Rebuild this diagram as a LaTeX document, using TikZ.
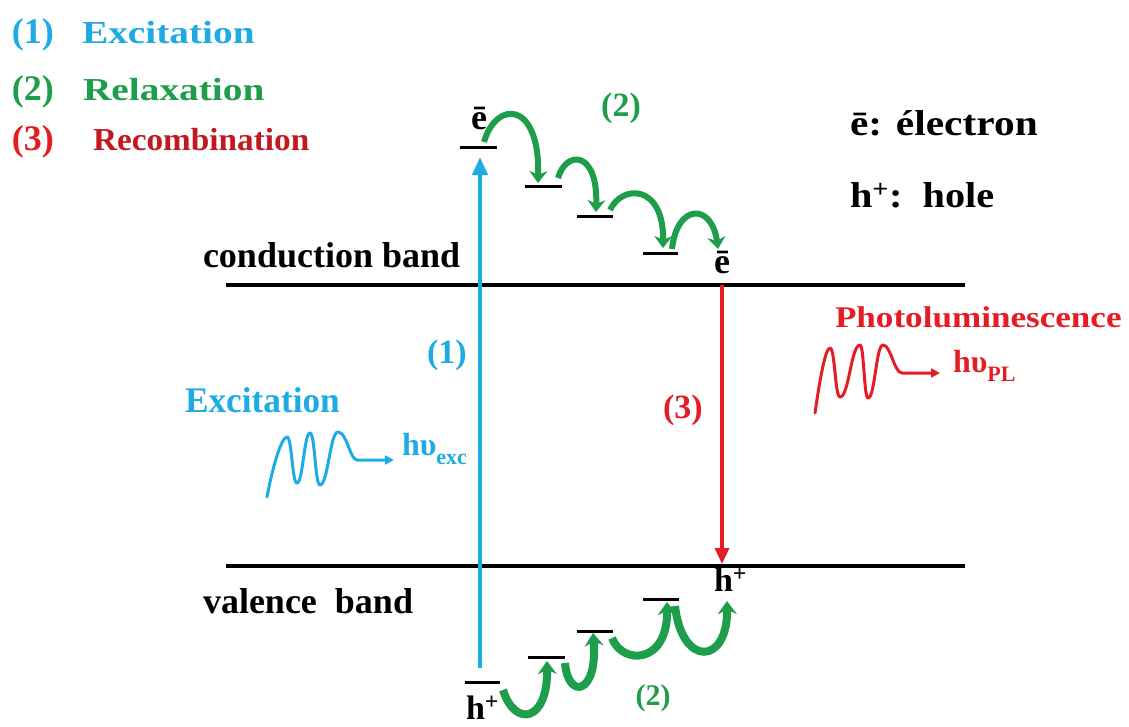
\documentclass[tikz,border=0pt]{standalone}
\usepackage{fontspec}
\usepackage{graphicx}
\setmainfont{Liberation Serif}
\usetikzlibrary{arrows.meta}
\definecolor{blu}{RGB}{30,170,226}
\definecolor{grn}{RGB}{30,158,74}
\definecolor{rd}{RGB}{228,28,36}
\newcommand\txt[3]{\scalebox{#1}[1]{\fontsize{#2}{#2}\selectfont\bfseries #3}}
\tikzset{
  lbl/.style={inner sep=0pt, outer sep=0pt, anchor=base west},
  clbl/.style={inner sep=0pt, outer sep=0pt, anchor=base},
  band/.style={line width=4pt, black},
  level/.style={line width=3pt, black},
  garrow/.style={draw=grn, line width=6pt, -{Stealth[length=12pt,width=18pt]}},
  garrowb/.style={draw=grn, line width=8pt, -{Stealth[length=13pt,width=19pt]}},
  wave/.style={line width=3pt, line cap=round, line join=round, -{Triangle[length=9pt,width=9pt]}},
}
\begin{document}
\begin{tikzpicture}[x=1pt,y=-1pt]
\useasboundingbox (0,0) rectangle (1129,726);

% legend top-left
\node[lbl,text=blu] (n1) at (12,43) {\txt{1}{36}{(1)}};
\node[lbl,text=blu] (l1) at (82,43) {\txt{1.23}{32}{Excitation}};
\node[lbl,text=grn] (n2) at (12,100) {\txt{1}{36}{(2)}};
\node[lbl,text=grn] (l2) at (83,100) {\txt{1.23}{32}{Relaxation}};
\node[lbl,text=rd] (n3) at (12,150) {\txt{1}{36}{(3)}};
\node[lbl,text=rd!85!black] (l3) at (93,150) {\txt{1.04}{32}{Recombination}};

% legend top-right
\node[lbl] (le) at (850,135) {\txt{1.15}{36}{ē: électron}};
\node[lbl] (lh) at (850,207) {\txt{1.12}{36}{h\textsuperscript{+}:\ \ hole}};

% bands
\coordinate (cbL) at (226,285);
\coordinate (cbR) at (965,285);
\coordinate (vbL) at (226,566);
\coordinate (vbR) at (965,566);
\draw[band] (cbL) -- (cbR);
\draw[band] (vbL) -- (vbR);
\node[lbl] (cbt) at (203,267) {\txt{1}{36}{conduction band}};
\node[lbl] (vbt) at (203,613) {\txt{1}{36}{valence\ \ band}};

% electron levels (top)
\coordinate (e1a) at (460,147); \coordinate (e1b) at (497,147);
\coordinate (e2a) at (525,186); \coordinate (e2b) at (562,186);
\coordinate (e3a) at (577,216); \coordinate (e3b) at (613,216);
\coordinate (e4a) at (643,253); \coordinate (e4b) at (678,253);
\draw[level] (e1a) -- (e1b);
\draw[level] (e2a) -- (e2b);
\draw[level] (e3a) -- (e3b);
\draw[level] (e4a) -- (e4b);
\node[clbl] (etop) at (479,129) {\txt{1}{36}{ē}};
\node[clbl] (ebot) at (722,273) {\txt{1}{36}{ē}};

% hole levels (bottom)
\coordinate (h1a) at (465,682); \coordinate (h1b) at (500,682);
\coordinate (h2a) at (528,657); \coordinate (h2b) at (565,657);
\coordinate (h3a) at (577,631); \coordinate (h3b) at (613,631);
\coordinate (h4a) at (643,599); \coordinate (h4b) at (679,599);
\draw[level] (h1a) -- (h1b);
\draw[level] (h2a) -- (h2b);
\draw[level] (h3a) -- (h3b);
\draw[level] (h4a) -- (h4b);
\node[lbl] (hbot) at (466,719) {\txt{1}{34}{h\textsuperscript{+}}};
\node[lbl] (htop) at (714,591) {\txt{1}{34}{h\textsuperscript{+}}};

% excitation arrow (1)
\coordinate (exS) at (480,668);
\coordinate (exE) at (480,157);
\draw[blu, line width=4pt, -{Triangle[length=18pt,width=15pt]}] (exS) -- (exE);
\node[lbl,text=blu] (x1) at (427,363) {\txt{1}{34}{(1)}};

% recombination arrow (3)
\coordinate (rcS) at (722,285);
\coordinate (rcE) at (722,564);
\draw[rd, line width=3.5pt, -{Triangle[length=16pt,width=14pt]}] (rcS) -- (rcE);
\node[lbl,text=rd] (x3) at (663,418) {\txt{1}{34}{(3)}};

% relaxation arrows top
\coordinate (ga1) at (484,142); \coordinate (gb1) at (538,183);
\coordinate (ga2) at (558,178); \coordinate (gb2) at (596,212);
\coordinate (ga3) at (610,210); \coordinate (gb3) at (663,248);
\coordinate (ga4) at (672,249); \coordinate (gb4) at (718,249);
\draw[garrow] (ga1) .. controls (496,100) and (540,100) .. (gb1);
\draw[garrow] (ga2) .. controls (566,150) and (598,150) .. (gb2);
\draw[garrow] (ga3) .. controls (622,184) and (664,184) .. (gb3);
\draw[garrow] (ga4) .. controls (677,203) and (712,203) .. (gb4);
\node[clbl,text=grn] (r2t) at (621,116) {\txt{1}{34}{(2)}};

% relaxation arrows bottom
\coordinate (gc1) at (503,690); \coordinate (gd1) at (547,661);
\coordinate (gc2) at (565,663); \coordinate (gd2) at (593,633);
\coordinate (gc3) at (612,638); \coordinate (gd3) at (667,602);
\coordinate (gc4) at (675,606); \coordinate (gd4) at (727,601);
\draw[garrowb] (gc1) .. controls (515,728) and (548,722) .. (gd1);
\draw[garrowb] (gc2) .. controls (568,700) and (598,695) .. (gd2);
\draw[garrowb] (gc3) .. controls (622,665) and (668,665) .. (gd3);
\draw[garrowb] (gc4) .. controls (682,668) and (728,665) .. (gd4);
\node[clbl,text=grn] (r2b) at (653,705) {\txt{1}{30}{(2)}};

% excitation photon
\node[lbl,text=blu] (exl) at (185,412) {\txt{0.98}{36}{Excitation}};
\coordinate (bwS) at (394,460);
\draw[blu, wave] (267,497) .. controls (272,470) and (281,437) .. (287,437)
  .. controls (292,437) and (292,483) .. (297,483)
  .. controls (303,483) and (304,433) .. (310,433)
  .. controls (315,433) and (315,485) .. (320,485)
  .. controls (328,485) and (330,432) .. (338,432)
  .. controls (347,432) and (350,460) .. (357,460) -- (bwS);
\node[lbl,text=blu] (hvx) at (402,455) {\txt{1}{32}{hυ\raisebox{-9pt}{\fontsize{22}{22}\selectfont exc}}};

% photoluminescence photon
\node[lbl,text=rd] (pll) at (835,327) {\txt{1.17}{30}{Photoluminescence}};
\coordinate (rwS) at (940,373);
\draw[rd, wave] (815,413) .. controls (819,385) and (825,348) .. (830,348)
  .. controls (835,348) and (835,397) .. (840,397)
  .. controls (849,397) and (851,345) .. (860,345)
  .. controls (864,345) and (864,398) .. (868,398)
  .. controls (875,398) and (876,345) .. (883,345)
  .. controls (891,345) and (894,373) .. (902,373) -- (rwS);
\node[lbl,text=rd] (hvp) at (953,372) {\txt{1}{32}{hυ\raisebox{-9pt}{\fontsize{22}{22}\selectfont PL}}};
\end{tikzpicture}
\end{document}
